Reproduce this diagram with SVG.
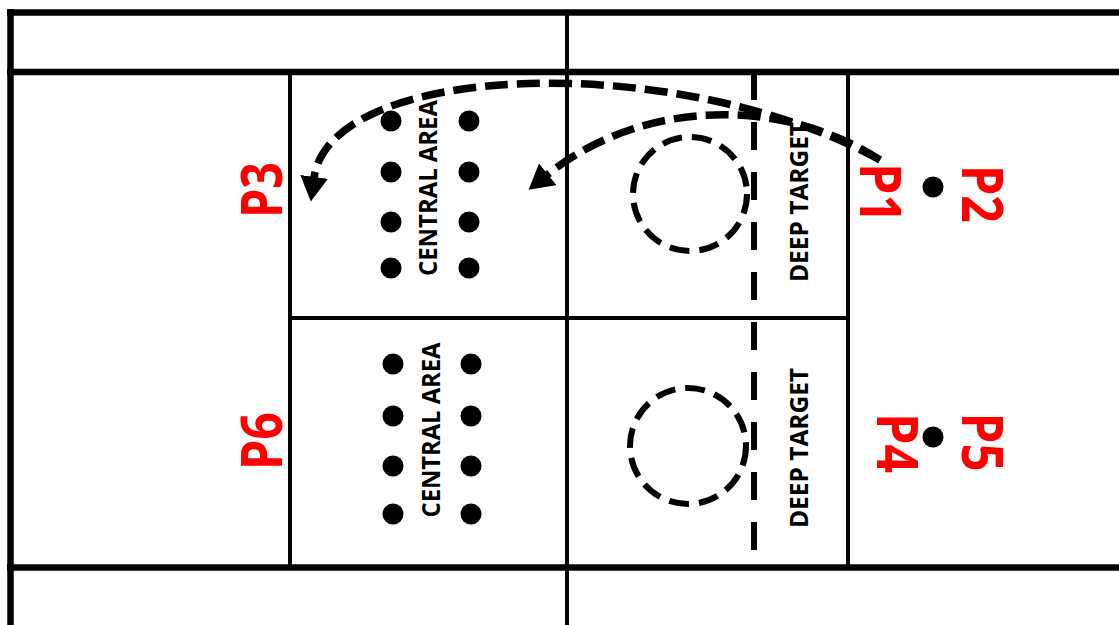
<svg xmlns="http://www.w3.org/2000/svg" width="1119" height="625" viewBox="0 0 1119 625">
<style>
.thick{stroke:#000;stroke-width:6.5;fill:none}
.thin{stroke:#000;stroke-width:4;fill:none}
.dash{stroke:#000;stroke-width:6;fill:none;stroke-dasharray:28 22}
.ring{stroke:#000;stroke-width:6;fill:none;stroke-dasharray:20 10}
.arc{stroke:#000;stroke-width:7.5;fill:none;stroke-dasharray:23 9}
.dot{fill:#000}
.lbl{font-family:"Open Sans","Liberation Sans",sans-serif;font-weight:bold;font-size:25px;fill:#000;text-anchor:middle}
.red{font-family:"Open Sans","Liberation Sans",sans-serif;font-weight:bold;font-size:58px;fill:#ff0000;text-anchor:middle}
</style>
<defs>
<marker id="ah" markerUnits="userSpaceOnUse" markerWidth="26" markerHeight="28" refX="1" refY="13" orient="auto" viewBox="0 0 24 26">
<path d="M0,0 L23,13 L0,26 z" fill="#000"/>
</marker>
</defs>
<rect x="0" y="0" width="1119" height="625" fill="#fff"/>
<g id="court">
<line class="thick" x1="7" y1="12.5" x2="1119" y2="12.5"/>
<line class="thick" x1="7" y1="72" x2="1119" y2="72"/>
<line class="thick" x1="7" y1="567.5" x2="1119" y2="567.5"/>
<line class="thick" x1="10.5" y1="9" x2="10.5" y2="625"/>
<line class="thin" x1="567" y1="12" x2="567" y2="625"/>
<line class="thin" x1="290" y1="72" x2="290" y2="567"/>
<line class="thin" x1="848" y1="72" x2="848" y2="567"/>
<line class="thin" x1="290" y1="318" x2="848" y2="318"/>
<line class="dash" x1="754" y1="72" x2="754" y2="550"/>
</g>
<g id="central-top">
<circle class="dot" cx="391" cy="121" r="10.5"/>
<circle class="dot" cx="469" cy="121" r="10.5"/>
<circle class="dot" cx="391" cy="172" r="10.5"/>
<circle class="dot" cx="469" cy="172" r="10.5"/>
<circle class="dot" cx="391" cy="222" r="10.5"/>
<circle class="dot" cx="469" cy="222" r="10.5"/>
<circle class="dot" cx="391" cy="268" r="10.5"/>
<circle class="dot" cx="469" cy="268" r="10.5"/>
<text class="lbl" transform="translate(437,188) rotate(-90)" textLength="176" lengthAdjust="spacingAndGlyphs">CENTRAL AREA</text>
</g>
<g id="central-bottom">
<circle class="dot" cx="393" cy="364" r="10.5"/>
<circle class="dot" cx="471" cy="364" r="10.5"/>
<circle class="dot" cx="393" cy="416" r="10.5"/>
<circle class="dot" cx="471" cy="416" r="10.5"/>
<circle class="dot" cx="393" cy="466" r="10.5"/>
<circle class="dot" cx="471" cy="466" r="10.5"/>
<circle class="dot" cx="393" cy="514" r="10.5"/>
<circle class="dot" cx="471" cy="514" r="10.5"/>
<text class="lbl" transform="translate(440,430) rotate(-90)" textLength="175" lengthAdjust="spacingAndGlyphs">CENTRAL AREA</text>
</g>
<g id="deep-top">
<circle class="ring" cx="690" cy="194" r="57"/>
<text class="lbl" transform="translate(808,202) rotate(-90)" textLength="160" lengthAdjust="spacingAndGlyphs">DEEP TARGET</text>
</g>
<g id="deep-bottom">
<circle class="ring" cx="688" cy="446" r="58"/>
<text class="lbl" transform="translate(808,448) rotate(-90)" textLength="160" lengthAdjust="spacingAndGlyphs">DEEP TARGET</text>
</g>
<g id="players">
<text class="red" transform="translate(282,190) rotate(-90)" textLength="56" lengthAdjust="spacingAndGlyphs">P3</text>
<text class="red" transform="translate(282,441) rotate(-90)" textLength="58" lengthAdjust="spacingAndGlyphs">P6</text>
<text class="red" transform="translate(860,193) rotate(90)" textLength="60" lengthAdjust="spacingAndGlyphs">P1</text>
<text class="red" transform="translate(962,194) rotate(90)" textLength="58" lengthAdjust="spacingAndGlyphs">P2</text>
<text class="red" transform="translate(877,443) rotate(90)" textLength="60" lengthAdjust="spacingAndGlyphs">P4</text>
<text class="red" transform="translate(962,442) rotate(90)" textLength="59" lengthAdjust="spacingAndGlyphs">P5</text>
<circle class="dot" cx="933" cy="187" r="10.5"/>
<circle class="dot" cx="933" cy="437" r="10.5"/>
</g>
<g id="connectors">
<path class="arc" d="M880,160 C680,50 330,60 314,178" marker-end="url(#ah)"/>
<path class="arc" d="M880,160 C780,95 640,100 547,175" marker-end="url(#ah)"/>
</g>
</svg>
